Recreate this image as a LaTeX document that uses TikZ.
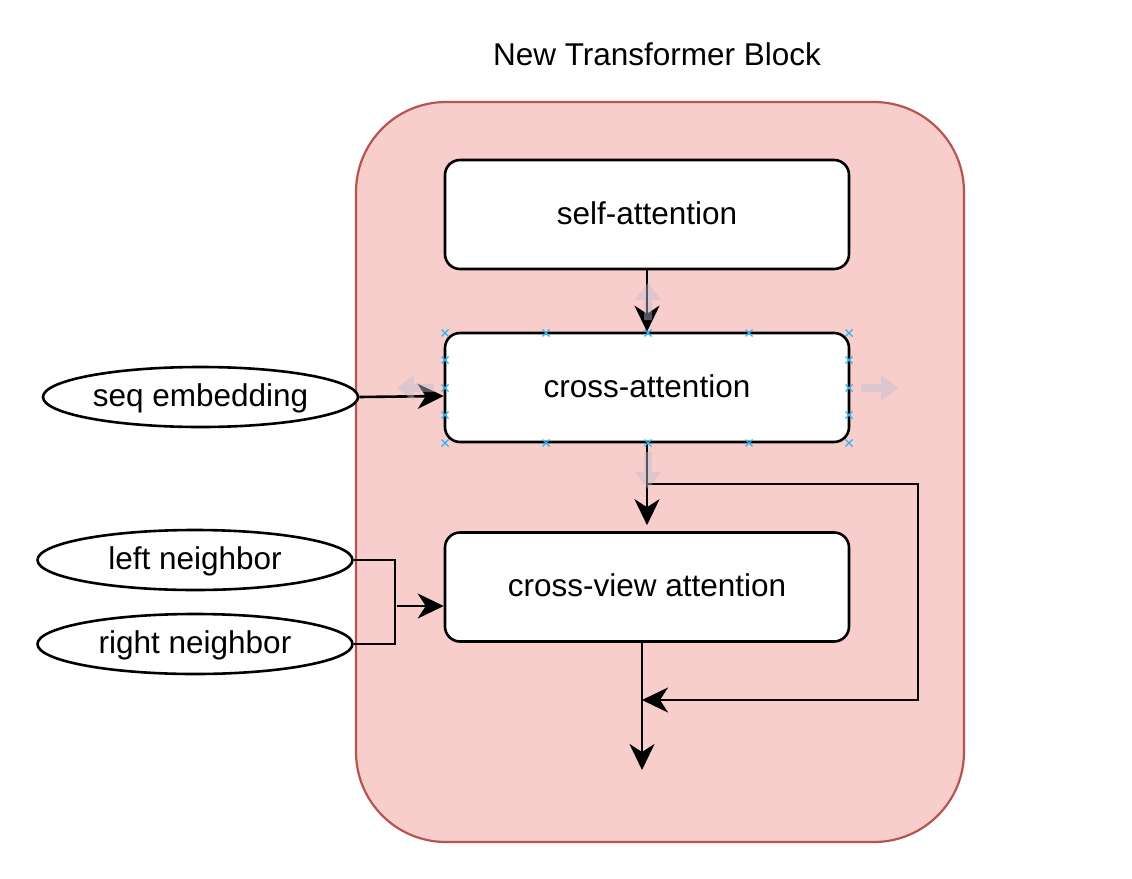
\documentclass[tikz,border=0pt]{standalone}
\usepackage{fontspec}
\setmainfont{Liberation Sans}
\usetikzlibrary{arrows.meta,shapes.geometric,calc}
\definecolor{blockfill}{HTML}{F8CECC}
\definecolor{blockdraw}{HTML}{B85450}
\definecolor{handle}{HTML}{29B6F2}
\definecolor{ghostc}{RGB}{190,190,210}
\begin{document}
\begin{tikzpicture}[x=1pt,y=-1pt,
  txt/.style={font=\fontsize{31.5}{37}\selectfont, text height=19pt, text depth=0pt},
  block/.style={draw=blockdraw, fill=blockfill, line width=2.2pt, rounded corners=90pt,
    minimum width=608pt, minimum height=740pt, inner sep=0pt},
  stage/.style={txt, draw=black, fill=white, line width=2.6pt, rounded corners=15pt,
    minimum width=404pt, minimum height=109pt, inner sep=0pt},
  inp/.style={txt, ellipse, draw=black, fill=white, line width=2.6pt,
    minimum width=315pt, minimum height=60pt, inner sep=0pt},
  line/.style={draw=black, line width=2.6pt},
  arr/.style={line, -{Stealth[length=26pt,width=25pt,inset=8pt]}},
  ghost/.style={fill=ghostc, fill opacity=0.45},
  handlemark/.style={draw=handle, line width=1.2pt},
  ghostarrow/.pic={\fill[ghost] (0,-4) -- (20,-4) -- (20,-13) -- (37,0) -- (20,13) -- (20,4) -- (0,4) -- cycle;},
  xmark/.pic={\draw[handlemark] (-3.5,-3.5) -- (3.5,3.5) (-3.5,3.5) -- (3.5,-3.5);},
]
\useasboundingbox (0,0) rectangle (1132,878);

% container and title
\node[block] (blk) at (660,472) {};
\node[txt] (title) at (657,56) {New Transformer Block};

% stages
\node[stage] (self) at (647,214.5) {self-attention};
\node[stage] (cross) at (647,387.5) {cross-attention};
\node[stage] (cview) at (647,587) {cross-view attention};

% inputs
\node[inp] (seq) at (200.5,397) {seq embedding};
\node[inp] (left) at (195,560) {left neighbor};
\node[inp] (right) at (195,644) {right neighbor};

% helper coordinates
\coordinate (jx) at (395,606);
\coordinate (jn) at (397,606);
\coordinate (br) at (648,484);
\coordinate (rt) at (918,484);
\coordinate (rb) at (918,700);
\coordinate (mg) at (642,700);
\coordinate (cvout) at (642,642);
\coordinate (out) at (642,770);

% connectors
\draw[arr] (self.south) -- (cross.north);
\draw[arr] (seq.east) -- ([yshift=-8.5pt]cross.west);
\draw[arr] (cross.south) -- ([yshift=6pt]cview.north);
\draw[line] (left.east) -- (left.east -| jx) -- (right.east -| jx) -- (right.east);
\draw[arr] (jn) -- (jn -| cview.west);
\draw[arr] (br) -- (rt) -- (rb) -- (mg);
\draw[arr] (cvout) -- (out);

% hover arrows around the selected cross-attention box
\pic[rotate=90] at (648,320) {ghostarrow};
\pic[rotate=-90] at (648,452) {ghostarrow};
\pic[rotate=180] at (434,388) {ghostarrow};
\pic at (861,388) {ghostarrow};

% selection handles
\foreach \hx in {445,546,648,749,849} {
  \pic at (\hx,333) {xmark};
  \pic at (\hx,443) {xmark};
}
\foreach \hy in {360,388,415} {
  \pic at (445,\hy) {xmark};
  \pic at (849,\hy) {xmark};
}
\end{tikzpicture}
\end{document}
